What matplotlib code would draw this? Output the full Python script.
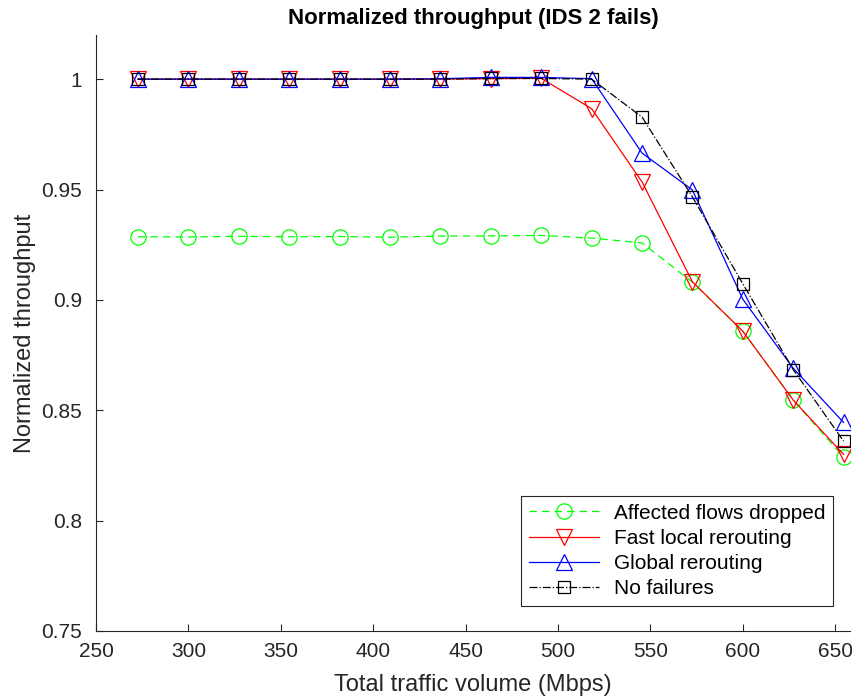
import matplotlib
matplotlib.use("Agg")
import matplotlib.pyplot as plt

# traffic volume (Mbps)
traffic = [272.7, 300.0, 327.3, 354.5, 381.8, 409.1, 436.4, 463.6, 490.9,
           518.2, 545.5, 572.7, 600.0, 627.3, 654.5]

dropped = [0.9286, 0.9285, 0.9288, 0.9286, 0.9287, 0.9284, 0.9289, 0.9290, 0.9292,
           0.9280, 0.9258, 0.9080, 0.8858, 0.8546, 0.8288]
fast_local = [1.0, 1.0, 1.0, 1.0, 1.0, 1.0, 1.0, 1.0002, 1.0004,
              0.9866, 0.9534, 0.9082, 0.8858, 0.8546, 0.8300]
global_rr = [1.0, 1.0, 1.0, 1.0, 1.0, 1.0, 1.0002, 1.0008, 1.0008,
             1.0002, 0.9665, 0.9498, 0.9003, 0.8690, 0.8445]
no_fail = [1.0, 1.0, 1.0, 1.0, 1.0, 1.0, 1.0, 1.0003, 1.0003,
           1.0, 0.9828, 0.9467, 0.9073, 0.8684, 0.8360]

plt.rcParams['font.family'] = ['Liberation Sans', 'DejaVu Sans']

fig = plt.figure(figsize=(8.53, 7.0), dpi=100)
ax = fig.add_axes([0.1125, 0.0986, 0.884, 0.8514])

ax.plot(traffic, dropped, color='#00ff00', linestyle='--', dashes=(6, 4), lw=0.9,
        marker='o', ms=11, mfc='none', mew=0.9, label='Affected flows dropped')
ax.plot(traffic, fast_local, color='#ff0000', linestyle='-', lw=0.9,
        marker='v', ms=11, mfc='none', mew=0.9, label='Fast local rerouting')
ax.plot(traffic, global_rr, color='#0000ff', linestyle='-', lw=0.9,
        marker='^', ms=11, mfc='none', mew=0.9, label='Global rerouting')
ax.plot(traffic, no_fail, color='black', linestyle='-.', lw=0.9,
        marker='s', ms=8, mfc='none', mew=0.9, label='No failures')

ax.set_xlim(250, 658)
ax.set_ylim(0.75, 1.02)
ax.set_xticks([250, 300, 350, 400, 450, 500, 550, 600, 650])
ax.set_yticks([0.75, 0.8, 0.85, 0.9, 0.95, 1.0])
ax.set_yticklabels(['0.75', '0.8', '0.85', '0.9', '0.95', '1'])
ax.tick_params(direction='in', labelsize=15, length=5, color='#262626', labelcolor='#262626')
ax.tick_params(axis='x', pad=8)
ax.tick_params(axis='y', pad=10)
for side in ['top', 'right']:
    ax.spines[side].set_visible(False)
for side in ['left', 'bottom']:
    ax.spines[side].set_color('#262626')
    ax.spines[side].set_linewidth(0.8)

ax.set_xlabel('Total traffic volume (Mbps)', fontsize=17, color='#262626', labelpad=9)
ax.set_ylabel('Normalized throughput', fontsize=17, color='#262626', labelpad=4)
ax.set_title('Normalized throughput (IDS 2 fails)', fontsize=16, fontweight='bold', pad=8)

leg = ax.legend(loc='lower right', bbox_to_anchor=(0.991, 0.025), fontsize=15,
                fancybox=False, framealpha=1, edgecolor='#262626',
                handlelength=3.4, borderpad=0.35, labelspacing=0.3, handletextpad=0.7)
leg.get_frame().set_linewidth(0.8)

fig.savefig('out.png', dpi=100)
